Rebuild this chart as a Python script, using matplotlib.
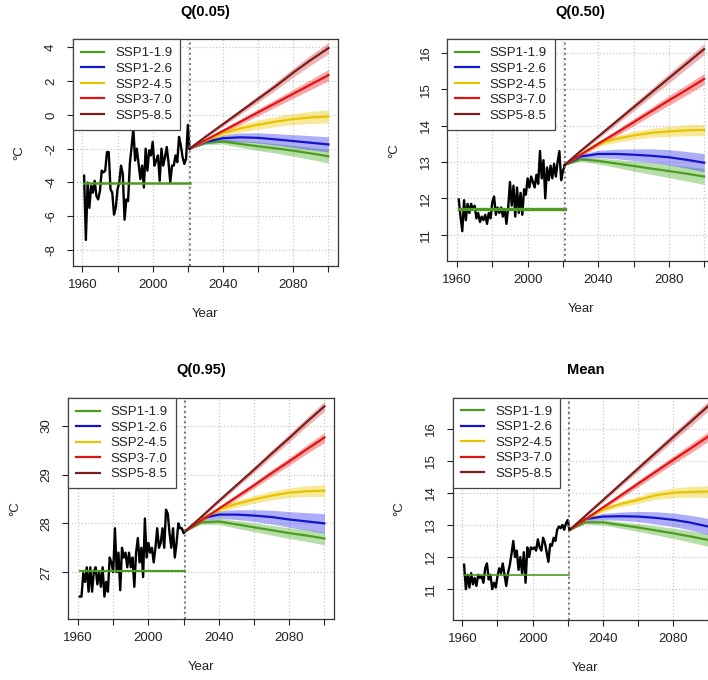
import matplotlib
matplotlib.use("Agg")
import matplotlib.pyplot as plt

plt.rcParams['font.family'] = ['Liberation Sans', 'DejaVu Sans']

# ---- data -------------------------------------------------------------
years_hist = list(range(1961, 2022))
years_proj = [2021, 2030, 2040, 2050, 2060, 2070, 2080, 2090, 2100]
scenarios = ['SSP1-1.9', 'SSP1-2.6', 'SSP2-4.5', 'SSP3-7.0', 'SSP5-8.5']
titles = ['Q(0.05)', 'Q(0.50)', 'Q(0.95)', 'Mean']

# Q(0.05)
q05_hist = [-3.6, -7.4, -4.0, -5.5, -4.2, -4.6, -3.9, -4.8, -5.0, -4.5,
            -3.3, -3.4, -3.3, -2.2, -2.2, -4.4, -4.6, -5.9, -5.5, -4.4,
            -4.0, -3.0, -3.5, -6.2, -5.0, -5.1, -2.9, -1.9, -0.8, -2.7,
            -2.0, -2.9, -3.8, -3.0, -4.3, -2.0, -3.3, -2.1, -2.4, -1.6,
            -3.0, -2.7, -2.4, -3.9, -2.0, -3.0, -2.5, -1.9, -2.8, -4.0,
            -3.0, -3.0, -2.4, -2.8, -1.3, -1.8, -2.5, -2.9, -2.6, -0.6, -2.0]
q05_base = -4.05
q05_mid = [
    [-2.0, -1.65, -1.58, -1.72, -1.86, -1.98, -2.12, -2.28, -2.45],
    [-2.0, -1.6, -1.38, -1.33, -1.36, -1.45, -1.55, -1.65, -1.75],
    [-2.0, -1.55, -1.08, -0.8, -0.58, -0.4, -0.25, -0.15, -0.1],
    [-2.0, -1.5, -0.95, -0.4, 0.15, 0.7, 1.25, 1.8, 2.35],
    [-2.0, -1.3, -0.55, 0.2, 0.95, 1.7, 2.5, 3.25, 3.95],
]
q05_half = [
    [0, 0.1, 0.15, 0.2, 0.25, 0.28, 0.32, 0.36, 0.4],
    [0, 0.12, 0.2, 0.26, 0.3, 0.34, 0.38, 0.42, 0.45],
    [0, 0.1, 0.17, 0.22, 0.27, 0.3, 0.33, 0.36, 0.38],
    [0, 0.08, 0.12, 0.16, 0.2, 0.23, 0.26, 0.3, 0.33],
    [0, 0.08, 0.12, 0.16, 0.2, 0.23, 0.26, 0.3, 0.33],
]

# Q(0.50)
q50_hist = [11.97, 11.5, 11.1, 11.95, 11.4, 11.85, 11.6, 11.85, 11.7, 11.8,
            11.45, 11.6, 11.35, 11.5, 11.4, 11.55, 11.3, 11.6, 11.45, 11.9,
            12.05, 11.55, 11.75, 11.6, 11.75, 11.5, 11.7, 11.3, 11.75, 12.45,
            11.8, 12.35, 11.5, 12.3, 11.6, 12.15, 11.55, 12.25, 12.1, 12.55,
            12.3, 12.6, 12.45, 12.3, 12.65, 12.4, 13.3, 12.55, 13.05, 12.0,
            12.85, 12.5, 12.9, 12.55, 12.95, 12.6, 13.0, 13.3, 12.5, 12.75, 12.9]
q50_base = 11.7
q50_mid = [
    [12.92, 13.07, 13.03, 12.96, 12.89, 12.82, 12.75, 12.68, 12.6],
    [12.92, 13.15, 13.22, 13.22, 13.2, 13.17, 13.13, 13.06, 12.98],
    [12.92, 13.2, 13.5, 13.63, 13.73, 13.8, 13.84, 13.87, 13.88],
    [12.92, 13.2, 13.5, 13.79, 14.09, 14.39, 14.69, 14.98, 15.28],
    [12.92, 13.3, 13.7, 14.1, 14.5, 14.9, 15.3, 15.7, 16.1],
]
q50_half = [
    [0, 0.05, 0.08, 0.11, 0.14, 0.16, 0.18, 0.2, 0.22],
    [0, 0.06, 0.1, 0.13, 0.16, 0.19, 0.21, 0.23, 0.25],
    [0, 0.04, 0.07, 0.09, 0.11, 0.12, 0.14, 0.15, 0.16],
    [0, 0.04, 0.06, 0.08, 0.1, 0.11, 0.13, 0.14, 0.15],
    [0, 0.04, 0.06, 0.08, 0.1, 0.11, 0.13, 0.14, 0.15],
]

# Q(0.95)
q95_hist = [26.5, 26.5, 26.98, 26.8, 27.1, 26.6, 27.1, 26.6, 27.0, 27.1,
            26.75, 27.0, 26.7, 27.1, 26.5, 26.8, 26.6, 27.3, 27.2, 27.0,
            27.9, 27.0, 27.4, 26.63, 27.5, 27.3, 27.4, 27.1, 27.4, 27.1,
            27.3, 26.7, 27.4, 27.7, 27.2, 27.5, 26.9, 28.1, 27.3, 27.6,
            27.4, 27.5, 27.2, 27.5, 27.9, 27.5, 27.6, 27.9, 27.5, 28.28,
            28.2, 27.8, 27.5, 27.9, 27.3, 27.6, 28.0, 27.9, 27.9, 27.8, 27.85]
q95_base = 27.03
q95_mid = [
    [27.84, 28.02, 28.04, 27.98, 27.92, 27.86, 27.8, 27.75, 27.69],
    [27.84, 28.1, 28.18, 28.18, 28.16, 28.13, 28.08, 28.04, 28.0],
    [27.84, 28.08, 28.28, 28.4, 28.49, 28.57, 28.63, 28.66, 28.67],
    [27.84, 28.06, 28.3, 28.54, 28.78, 29.03, 29.27, 29.52, 29.76],
    [27.84, 28.13, 28.46, 28.78, 29.1, 29.43, 29.75, 30.08, 30.4],
]
q95_half = [
    [0, 0.04, 0.06, 0.08, 0.09, 0.1, 0.11, 0.12, 0.13],
    [0, 0.05, 0.08, 0.1, 0.12, 0.14, 0.16, 0.18, 0.2],
    [0, 0.04, 0.06, 0.07, 0.08, 0.09, 0.1, 0.11, 0.12],
    [0, 0.03, 0.04, 0.05, 0.06, 0.07, 0.08, 0.09, 0.1],
    [0, 0.03, 0.04, 0.05, 0.06, 0.07, 0.08, 0.09, 0.1],
]

# Mean
mean_hist = [11.76, 11.0, 11.45, 11.05, 11.5, 11.15, 11.35, 11.1, 11.45, 11.35,
             11.4, 11.2, 11.65, 11.8, 11.3, 11.45, 11.0, 11.2, 11.05, 11.4,
             11.65, 11.5, 11.8, 11.45, 11.1, 11.5, 11.75, 12.1, 12.5, 12.0,
             12.2, 11.6, 12.0, 11.5, 12.15, 11.2, 12.3, 12.0, 12.3, 12.25,
             12.3, 12.2, 12.55, 12.3, 12.2, 12.6, 12.45, 12.15, 11.85, 12.4,
             12.35, 12.6, 12.5, 12.85, 12.95, 12.9, 13.0, 12.85, 13.05, 13.15, 12.85]
mean_base = 11.44
mean_mid = [
    [12.84, 13.08, 13.08, 13.0, 12.92, 12.83, 12.74, 12.64, 12.53],
    [12.84, 13.18, 13.26, 13.27, 13.26, 13.22, 13.16, 13.07, 12.95],
    [12.84, 13.17, 13.47, 13.65, 13.78, 13.92, 14.0, 14.03, 14.04],
    [12.84, 13.17, 13.54, 13.91, 14.28, 14.65, 15.02, 15.38, 15.75],
    [12.84, 13.28, 13.77, 14.26, 14.75, 15.24, 15.73, 16.21, 16.7],
]
mean_half = [
    [0, 0.05, 0.08, 0.1, 0.12, 0.14, 0.16, 0.18, 0.2],
    [0, 0.06, 0.1, 0.13, 0.16, 0.19, 0.21, 0.23, 0.25],
    [0, 0.04, 0.07, 0.09, 0.11, 0.13, 0.15, 0.17, 0.18],
    [0, 0.04, 0.06, 0.08, 0.1, 0.11, 0.12, 0.14, 0.15],
    [0, 0.04, 0.06, 0.08, 0.1, 0.11, 0.12, 0.14, 0.15],
]

yticks = [[-8, -6, -4, -2, 0, 2, 4], [11, 12, 13, 14, 15, 16],
          [27, 28, 29, 30], [11, 12, 13, 14, 15, 16]]

# ---- style ------------------------------------------------------------
line_colors = ['#4e9a22', '#1414c8', '#e8c400', '#e01414', '#7a1e1e']
band_colors = ['#5cb83a', '#4a4af0', '#f0d020', '#f03a3a', '#d65a5a']
W, H = 708, 680
# axes box in pixels: left, top, right, bottom
boxes = [(72.7, 39.3, 338.3, 266), (447.3, 39.3, 714, 261),
         (68.3, 398, 334.3, 619), (452.7, 397.7, 718, 620)]
ylims = [(-8.94, 4.47), (10.28, 16.37), (26.04, 30.57), (10.04, 16.96)]
base_lw = [1.8, 2.4, 1.6, 1.2]

panels = [(q05_hist, q05_base, q05_mid, q05_half),
          (q50_hist, q50_base, q50_mid, q50_half),
          (q95_hist, q95_base, q95_mid, q95_half),
          (mean_hist, mean_base, mean_mid, mean_half)]

fig = plt.figure(figsize=(W / 100, H / 100), dpi=100)

for i, (hist, base, mid, half) in enumerate(panels):
    l, t, r, b = boxes[i]
    ax = fig.add_axes([l / W, 1 - b / H, (r - l) / W, (b - t) / H])
    ax.set_xlim(1954.5, 2105.6)
    ax.set_ylim(*ylims[i])

    xt = list(range(1960, 2101, 20))
    ax.set_xticks(xt)
    ax.set_xticklabels([str(x) if x in (1960, 2000, 2040, 2080) else '' for x in xt])
    ax.set_yticks(yticks[i])
    ax.set_yticklabels([str(v) for v in yticks[i]], rotation=90, va='center')
    ax.tick_params(direction='out', length=4.3, width=0.8, labelsize=9.5,
                   colors='#222222', pad=5)
    ax.tick_params(axis='y', pad=7)
    ax.grid(True, color='#c8c8c8', linestyle=':', linewidth=0.9)
    ax.set_axisbelow(True)
    for s in ax.spines.values():
        s.set_color('#333333')
        s.set_linewidth(0.9)

    # projection bands then lines
    for k in range(5):
        lo = [m - h for m, h in zip(mid[k], half[k])]
        hi = [m + h for m, h in zip(mid[k], half[k])]
        ax.fill_between(years_proj, lo, hi, color=band_colors[k], alpha=0.45,
                        linewidth=0)
    for k in range(5):
        ax.plot(years_proj, mid[k], color=line_colors[k], lw=1.6,
                label=scenarios[k])

    ax.plot(years_hist, hist, color='black', lw=1.7)
    ax.plot([years_hist[0], years_hist[-1]], [base, base], color=line_colors[0],
            lw=base_lw[i])
    ax.axvline(2021, color='#777777', linestyle=':', lw=1.4)

    leg = ax.legend(loc='upper left', bbox_to_anchor=(0, 1), borderaxespad=0,
                    fancybox=False, framealpha=1, edgecolor='#444444',
                    fontsize=9.5, handlelength=1.8, handletextpad=0.8,
                    borderpad=0.6, labelspacing=0.25)
    leg.get_frame().set_linewidth(0.9)
    for txt in leg.get_texts():
        txt.set_color('#222222')

    ax.set_title(titles[i], fontsize=10.5, fontweight='bold', pad=17)
    ax.set_xlabel('Year', fontsize=9.5, color='#222222')
    ax.xaxis.set_label_coords(0.5, -48 / (b - t))
    ax.xaxis.label.set_va('center')
    ax.set_ylabel('°C', fontsize=9.5, color='#222222')
    ax.yaxis.set_label_coords(-53 / (r - l), 0.5)
    ax.yaxis.label.set_va('center')

fig.savefig('out.png', dpi=100)
